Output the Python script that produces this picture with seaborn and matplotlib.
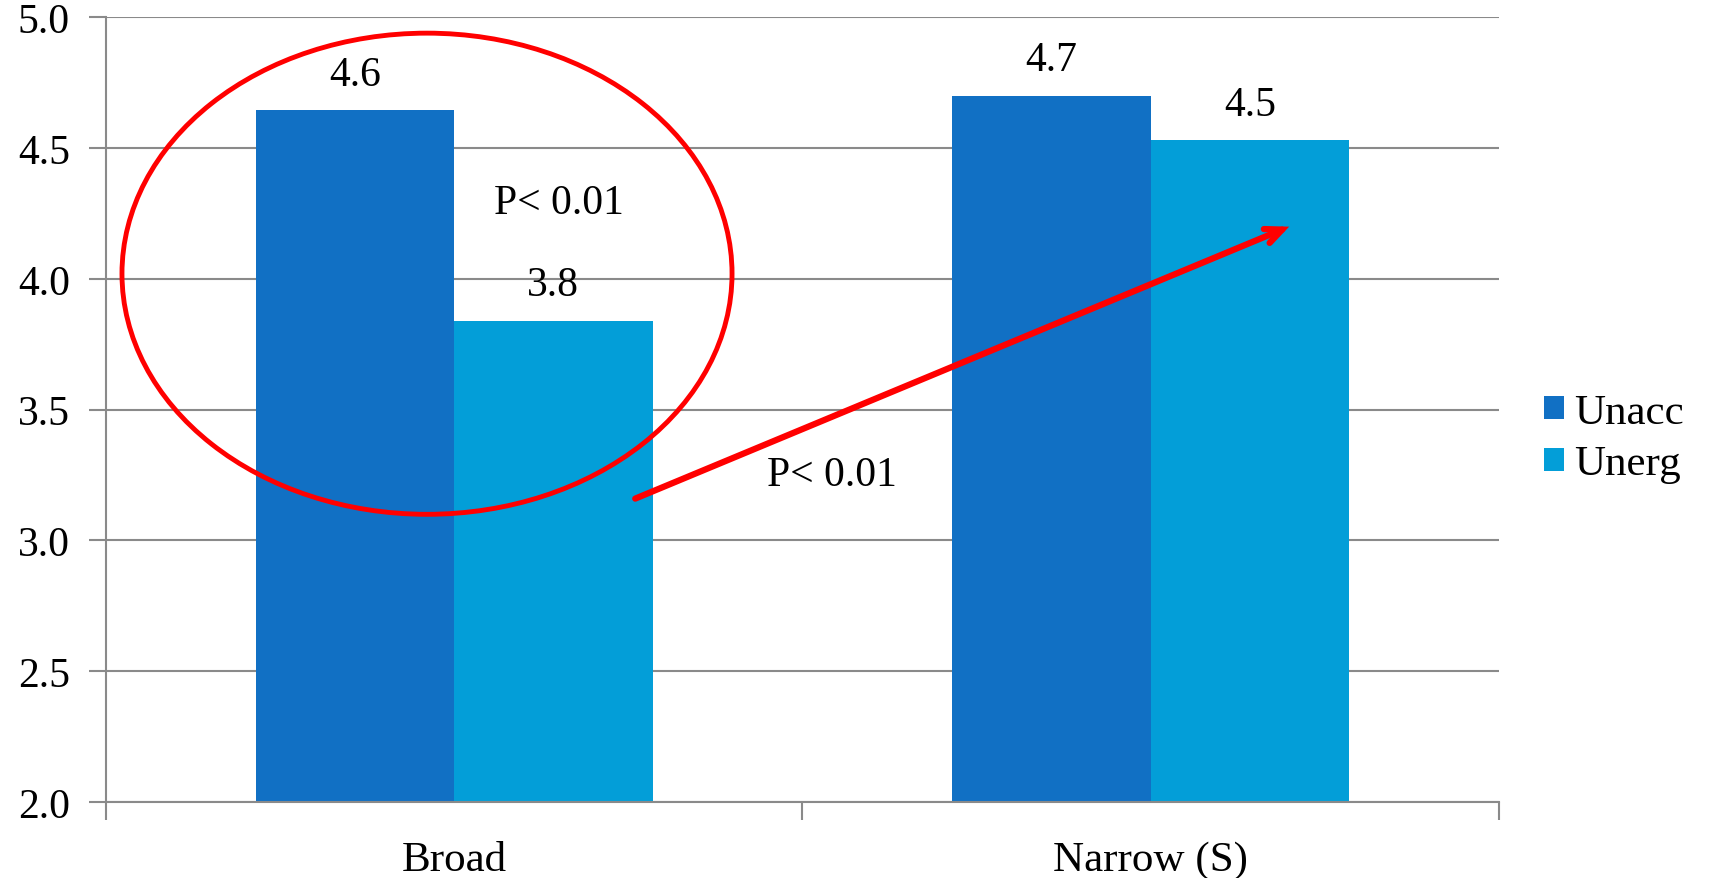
import matplotlib
matplotlib.use("Agg")
import matplotlib.pyplot as plt
from matplotlib.patches import Ellipse
import seaborn as sns
import pandas as pd

categories = ["Broad", "Narrow (S)"]
series = ["Unacc", "Unerg"]
unacc = [4.645, 4.70]
unerg = [3.84, 4.53]
value_labels = [["4.6", "4.7"], ["3.8", "4.5"]]
y_ticks = [2.0, 2.5, 3.0, 3.5, 4.0, 4.5, 5.0]
p_text = "P< 0.01"

colors = ["#1170C4", "#039ED8"]
grid_col = "#8a8a8a"

df = pd.DataFrame({
    "cat": categories * 2,
    "series": [series[0]] * 2 + [series[1]] * 2,
    "value": unacc + unerg,
})

sns.set_theme(style="white")
plt.rcParams["font.family"] = ["Liberation Serif", "DejaVu Serif"]
plt.rcParams["text.color"] = "black"
plt.rcParams["xtick.color"] = "black"
plt.rcParams["ytick.color"] = "black"

fig = plt.figure(figsize=(17.09, 8.79), dpi=100)
ax = fig.add_axes([0.062, 0.0865, 0.815, 0.8925])

sns.barplot(data=df, x="cat", y="value", hue="series", palette=colors,
            width=0.57, ax=ax, saturation=1, legend=True, linewidth=0)

ax.set_ylim(2.0, 5.0)
ax.set_xlim(-0.5, 1.5)
ax.set_yticks(y_ticks)
ax.set_yticklabels([f"{t:.1f}" for t in y_ticks], fontsize=30)
ax.set_xlabel("")
ax.set_ylabel("")

# category labels centred, tick marks at category boundaries
ax.set_xticks([-0.5, 0.5, 1.5])
ax.set_xticklabels([])
ax.set_xticks([0, 1], minor=True)
ax.set_xticklabels(categories, minor=True, fontsize=31)
ax.tick_params(axis="x", which="minor", length=0, pad=28)
ax.tick_params(axis="x", which="major", length=13, width=1.5, color=grid_col,
               direction="out", bottom=True)
ax.tick_params(axis="y", length=12, width=1.5, color=grid_col,
               direction="out", left=True, pad=14)

ax.yaxis.grid(True, color=grid_col, linewidth=1.5)
ax.set_axisbelow(True)
for s in ["top", "right"]:
    ax.spines[s].set_visible(False)
for s in ["left", "bottom"]:
    ax.spines[s].set_color(grid_col)
    ax.spines[s].set_linewidth(1.5)

# value labels above bars
for ci, cont in enumerate(ax.containers):
    ax.bar_label(cont, labels=value_labels[ci], padding=12, fontsize=30)

# legend
handles, labels = ax.get_legend_handles_labels()
ax.legend_.remove()
fig.legend(handles, labels, loc="center left", bbox_to_anchor=(0.881, 0.5),
           frameon=False, fontsize=31, handlelength=0.45, handleheight=0.45,
           handletextpad=0.25, labelspacing=0.3)

# significance annotations
ax.add_patch(Ellipse((-0.039, 4.02), 0.876, 1.84, fill=False,
                     edgecolor="#FF0000", linewidth=3.5, zorder=5))
ax.annotate("", xy=(1.199, 4.2), xytext=(0.26, 3.16),
            arrowprops=dict(arrowstyle="->,head_length=1.0,head_width=0.45",
                            color="#FF0000", linewidth=4.5, shrinkA=0, shrinkB=0,
                            capstyle="round", joinstyle="miter"),
            zorder=6)
ax.text(0.15, 4.29, p_text, fontsize=30, ha="center", va="center")
ax.text(0.543, 3.25, p_text, fontsize=30, ha="center", va="center")

fig.savefig("out.png", dpi=100, facecolor="white")
